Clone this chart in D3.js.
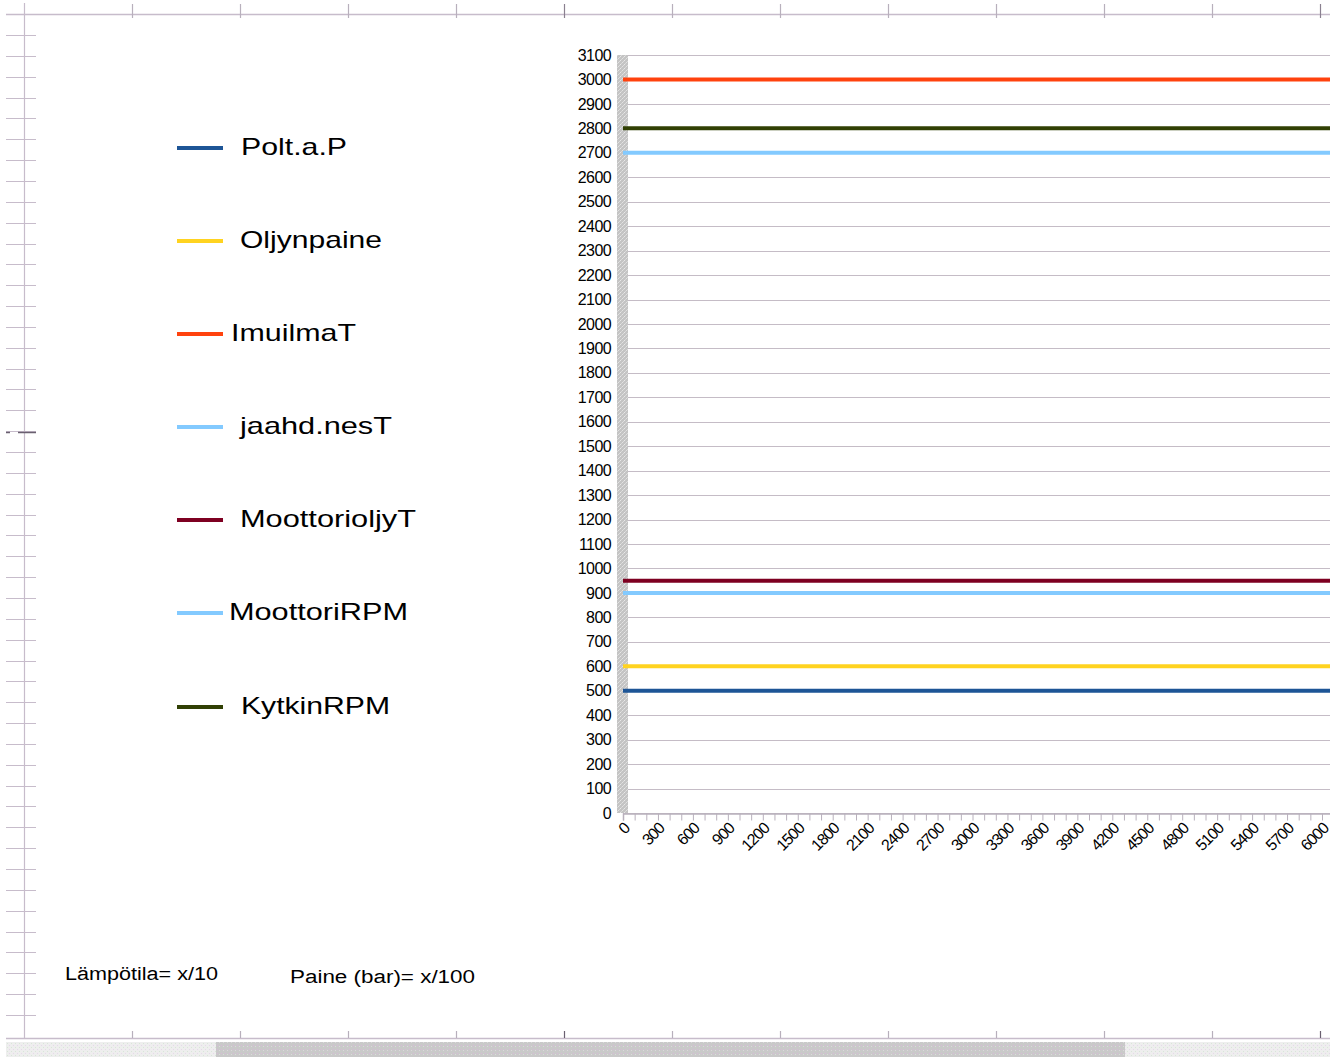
<!DOCTYPE html>
<html>
<head>
<meta charset="utf-8">
<script src="https://cdn.jsdelivr.net/npm/d3@7/dist/d3.min.js"></script>
<style>
  html, body { margin: 0; padding: 0; background: #ffffff; }
  svg { display: block; }
  text { font-family: "Liberation Sans", Arial, sans-serif; fill: #000; }
</style>
</head>
<body>
<svg id="chart" width="1338" height="1057"></svg>
<script>
// Series shown in the engine-log chart (values are scaled readings)
const seriesNames = ["Polt.a.P", "Oljynpaine", "ImuilmaT", "jaahd.nesT", "MoottorioljyT", "MoottoriRPM", "KytkinRPM"];
const seriesValues = [500, 600, 3000, 2700, 950, 900, 2800];
const seriesColors = ["#1d5596", "#ffd320", "#ff420e", "#83caff", "#7e0021", "#83caff", "#314004"];

// Horizontal extent of the sample axis
const xStart = 0;
const xEnd = 6300;
const xLabels = [0, 300, 600, 900, 1200, 1500, 1800, 2100, 2400, 2700, 3000, 3300, 3600, 3900, 4200, 4500, 4800, 5100, 5400, 5700, 6000];
const yTickLabels = [0, 100, 200, 300, 400, 500, 600, 700, 800, 900, 1000, 1100, 1200, 1300, 1400, 1500, 1600, 1700, 1800, 1900, 2000, 2100, 2200, 2300, 2400, 2500, 2600, 2700, 2800, 2900, 3000, 3100];

// Notes under the chart
const notes = ["Lämpötila= x/10", "Paine (bar)= x/100"];

const svg = d3.select("#chart");

// ---- textures ------------------------------------------------------------
const defs = svg.append("defs");
const dither = defs.append("pattern").attr("id", "dither").attr("width", 4).attr("height", 4)
  .attr("patternUnits", "userSpaceOnUse");
dither.append("rect").attr("width", 4).attr("height", 4).attr("fill", "#c4c4c4");
dither.append("rect").attr("x", 0).attr("y", 0).attr("width", 1).attr("height", 1).attr("fill", "#e8e8e8");
dither.append("rect").attr("x", 2).attr("y", 2).attr("width", 1).attr("height", 1).attr("fill", "#e2e2e2");
dither.append("rect").attr("x", 1).attr("y", 3).attr("width", 1).attr("height", 1).attr("fill", "#d8d8d8");
dither.append("rect").attr("x", 3).attr("y", 1).attr("width", 1).attr("height", 1).attr("fill", "#dcdcdc");

const scrollLight = defs.append("pattern").attr("id", "scrollLight").attr("width", 4).attr("height", 4)
  .attr("patternUnits", "userSpaceOnUse");
scrollLight.append("rect").attr("width", 4).attr("height", 4).attr("fill", "#eeeeee");
scrollLight.append("rect").attr("x", 1).attr("y", 1).attr("width", 1).attr("height", 1).attr("fill", "#e6d8ea");
scrollLight.append("rect").attr("x", 3).attr("y", 3).attr("width", 1).attr("height", 1).attr("fill", "#d8e6d8");

const scrollDark = defs.append("pattern").attr("id", "scrollDark").attr("width", 4).attr("height", 4)
  .attr("patternUnits", "userSpaceOnUse");
scrollDark.append("rect").attr("width", 4).attr("height", 4).attr("fill", "#c9c9c9");
scrollDark.append("rect").attr("x", 1).attr("y", 1).attr("width", 1).attr("height", 1).attr("fill", "#d8b8d8");
scrollDark.append("rect").attr("x", 3).attr("y", 2).attr("width", 1).attr("height", 1).attr("fill", "#dadada");

defs.append("clipPath").attr("id", "viewClip")
  .append("rect").attr("x", 0).attr("y", 0).attr("width", 1330).attr("height", 1036);

// ---- sheet rulers and scrollbar -----------------------------------------
const rulerColor = "#c7bccb";
const ruler = svg.append("g");
ruler.append("line").attr("x1", 6).attr("x2", 1330).attr("y1", 14.5).attr("y2", 14.5)
  .attr("stroke", rulerColor).attr("stroke-width", 1.5);
ruler.append("line").attr("x1", 6).attr("x2", 1330).attr("y1", 1038.5).attr("y2", 1038.5)
  .attr("stroke", rulerColor).attr("stroke-width", 1.5);
ruler.append("line").attr("x1", 24.5).attr("x2", 24.5).attr("y1", 3).attr("y2", 1038)
  .attr("stroke", rulerColor).attr("stroke-width", 1.2);
const rulerX = d3.range(132, 1330, 108);
ruler.selectAll(".tt").data(rulerX).join("line")
  .attr("x1", d => d + 0.5).attr("x2", d => d + 0.5).attr("y1", 4).attr("y2", 18)
  .attr("stroke", d => (d === 564 || d === 1320) ? "#8a8090" : "#b8b0bc").attr("stroke-width", 1.2);
ruler.selectAll(".bt").data(rulerX).join("line")
  .attr("x1", d => d + 0.5).attr("x2", d => d + 0.5).attr("y1", 1031).attr("y2", 1038)
  .attr("stroke", d => (d === 564 || d === 1320) ? "#6a6070" : "#b8b0bc").attr("stroke-width", 1.2);
const rulerY = d3.range(0, 48).map(i => 35 + i * 20.85).filter(v => v < 1030);
ruler.selectAll(".lt").data(rulerY).join("line")
  .attr("x1", 6).attr("x2", 36).attr("y1", d => Math.round(d) + 0.5).attr("y2", d => Math.round(d) + 0.5)
  .attr("stroke", rulerColor).attr("stroke-width", 1);
// cursor marker on the left ruler
ruler.append("line").attr("x1", 6).attr("x2", 10).attr("y1", 432.5).attr("y2", 432.5).attr("stroke", "#6a6070").attr("stroke-width", 1.5);
ruler.append("line").attr("x1", 18).attr("x2", 36).attr("y1", 432.5).attr("y2", 432.5).attr("stroke", "#6a6070").attr("stroke-width", 1.5);

svg.append("rect").attr("x", 6).attr("y", 1042).attr("width", 1324).attr("height", 15).attr("fill", "url(#scrollLight)");
svg.append("rect").attr("x", 216).attr("y", 1042).attr("width", 909).attr("height", 15).attr("fill", "url(#scrollDark)");

// ---- chart scales --------------------------------------------------------
const x = d3.scaleLinear().domain([xStart, xEnd]).range([623, 623 + 0.1165 * (xEnd - xStart)]);
const y = d3.scaleLinear().domain([0, 3100]).range([813, 55]);

const chart = svg.append("g").attr("clip-path", "url(#viewClip)");

// horizontal gridlines
chart.append("g").selectAll("line").data(yTickLabels).join("line")
  .attr("x1", x(xStart)).attr("x2", x(xEnd))
  .attr("y1", d => Math.round(y(d)) + 0.5).attr("y2", d => Math.round(y(d)) + 0.5)
  .attr("stroke", "#c5bcc6").attr("stroke-width", 1.2);

// x axis with ticks every 100 and labels every 300
const xAxis = d3.axisBottom(x)
  .tickValues(d3.range(xStart, xEnd + 1, 100))
  .tickSize(7)
  .tickFormat(d => xLabels.includes(d) ? d : "");
const gx = chart.append("g").attr("transform", "translate(0,813.5)").call(xAxis);
gx.select(".domain").attr("stroke", "#b8b0bc").attr("stroke-width", 1.5);
gx.selectAll(".tick line").attr("stroke", "#b8b0bc").attr("stroke-width", 1);
gx.selectAll(".tick text")
  .attr("font-family", "Liberation Sans, Arial, sans-serif")
  .attr("font-size", 16)
  .attr("letter-spacing", -1)
  .attr("text-anchor", "end")
  .attr("fill", "#000")
  .attr("transform", "translate(3,12) rotate(-45)")
  .attr("x", 0).attr("y", 0).attr("dy", "0.35em");

// y axis band and labels
chart.append("rect").attr("x", 617).attr("y", y(3100)).attr("width", 11).attr("height", y(0) - y(3100))
  .attr("fill", "url(#dither)");
const yAxis = d3.axisLeft(y).tickValues(yTickLabels).tickFormat(d3.format("d")).tickSize(0).tickPadding(0);
const gy = chart.append("g").attr("transform", "translate(611,0)").call(yAxis);
gy.select(".domain").remove();
gy.selectAll(".tick text")
  .attr("font-family", "Liberation Sans, Arial, sans-serif")
  .attr("font-size", 16)
  .attr("letter-spacing", -0.6)
  .attr("fill", "#000");

// series lines
const line = d3.line().x(d => x(d[0])).y(d => y(d[1]));
chart.append("g").selectAll("path").data(seriesValues).join("path")
  .attr("d", v => line([[xStart, v], [xEnd, v]]))
  .attr("fill", "none")
  .attr("stroke", (v, i) => seriesColors[i])
  .attr("stroke-width", 4);

// ---- legend --------------------------------------------------------------
const legendRowsY = [148, 241, 334, 427, 520, 613, 707];
const legendTextX = [241, 240, 231, 240, 240, 229, 241];
const legendTextW = [106, 142, 125, 152, 176, 179, 149];
const legend = svg.append("g");
seriesNames.forEach((name, i) => {
  legend.append("line")
    .attr("x1", 177).attr("x2", 223).attr("y1", legendRowsY[i]).attr("y2", legendRowsY[i])
    .attr("stroke", seriesColors[i]).attr("stroke-width", 4);
  legend.append("text")
    .attr("x", legendTextX[i]).attr("y", legendRowsY[i] + 7)
    .attr("font-size", 24)
    .attr("textLength", legendTextW[i])
    .attr("lengthAdjust", "spacingAndGlyphs")
    .text(name);
});

// ---- notes ---------------------------------------------------------------
svg.append("text").attr("x", 65).attr("y", 980).attr("font-size", 18)
  .attr("textLength", 153).attr("lengthAdjust", "spacingAndGlyphs").text(notes[0]);
svg.append("text").attr("x", 290).attr("y", 983).attr("font-size", 18)
  .attr("textLength", 185).attr("lengthAdjust", "spacingAndGlyphs").text(notes[1]);
</script>
</body>
</html>
